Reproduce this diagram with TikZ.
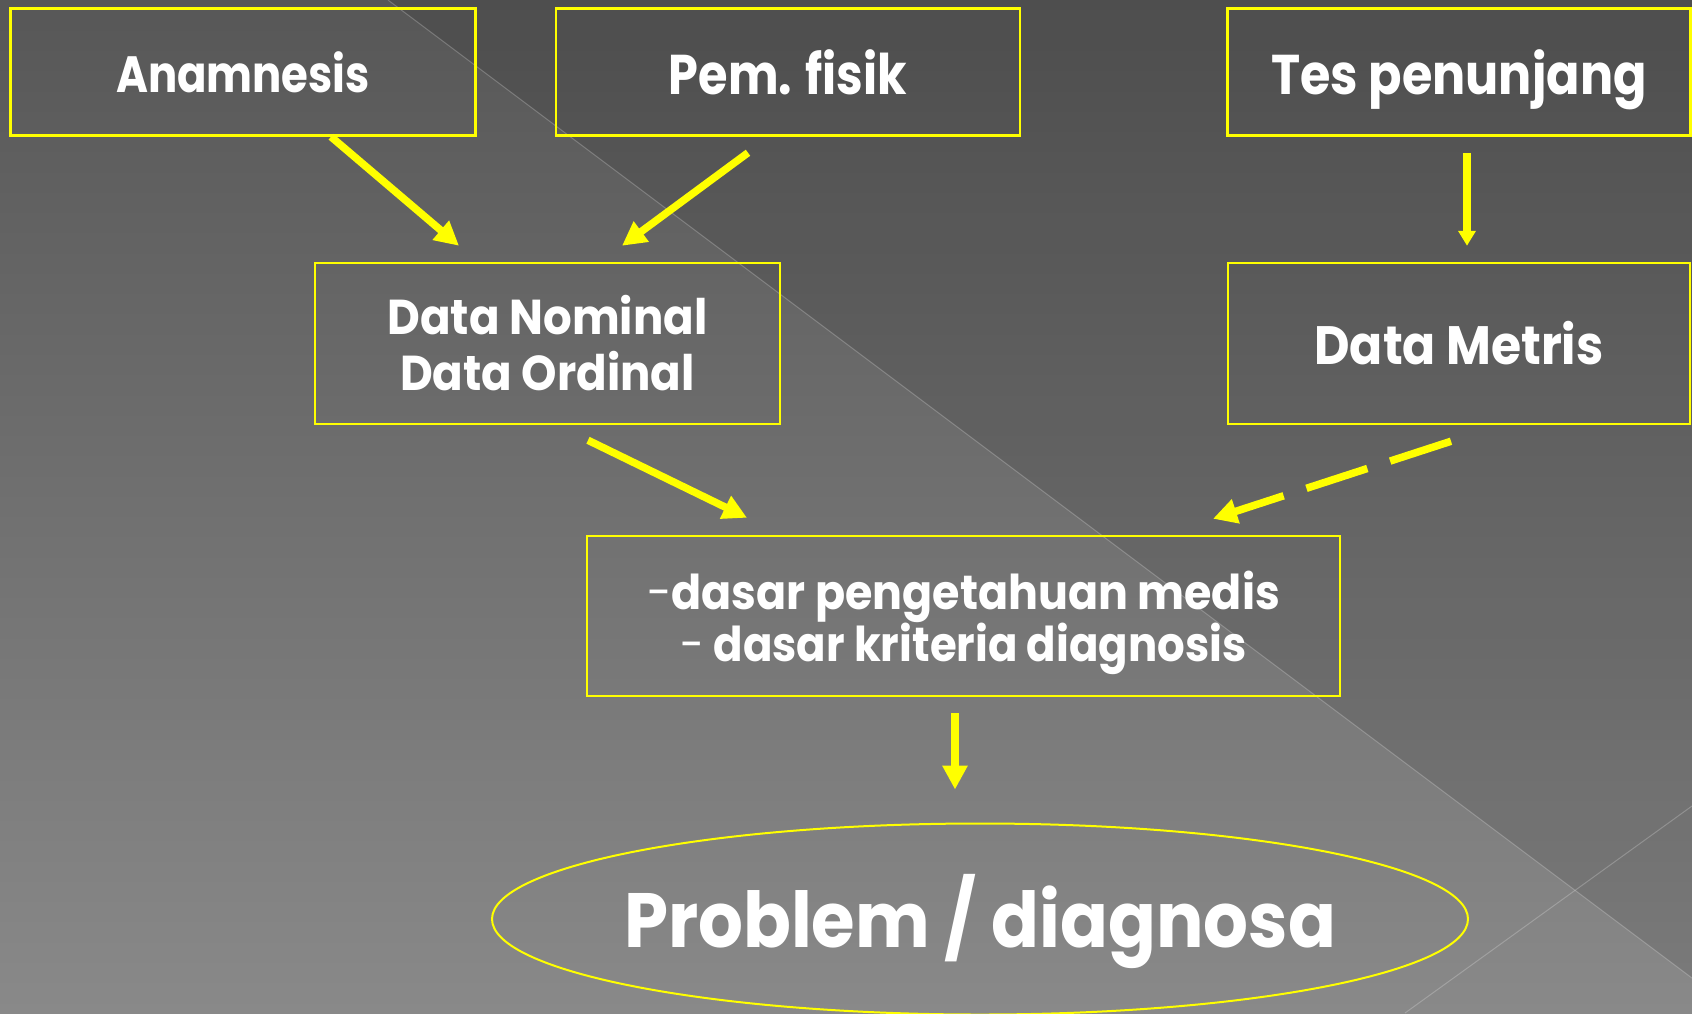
\documentclass[tikz,border=0pt]{standalone}
\usepackage{fontspec}
\setmainfont{Poppins}
\usetikzlibrary{arrows.meta,shapes.geometric}
\definecolor{ylw}{HTML}{FFFF00}
\newcommand{\sq}[2][0.88]{\scalebox{#1}[1]{#2}}
\newcommand{\dropby}[2]{\raisebox{-#1}[\height][\depth]{#2}}
\tikzset{
  box/.style={draw=ylw, line width=2.5pt, rectangle, inner sep=0pt, text=white, align=center},
  arr/.style={draw=ylw, line width=7.5pt, -{Triangle[length=24pt,width=24pt]}},
  arrsmall/.style={draw=ylw, line width=7.5pt, -{Triangle[length=15pt,width=17pt]}},
  bgline/.style={draw=white, opacity=0.22, line width=1pt}
}
\begin{document}
\begin{tikzpicture}[x=1pt,y=-1pt]
\useasboundingbox (0,0) rectangle (1692,1013);
% background
\shade[top color={rgb,255:red,87;green,87;blue,87}, bottom color={rgb,255:red,137;green,137;blue,137}] (0,0) rectangle (1692,1013);
\fill[black, opacity=0.1] (388,0) -- (1692,0) -- (1692,978) -- cycle;
\draw[bgline] (388,0) -- (1692,978);
\draw[bgline] (1405,1013) -- (1692,806);
% nodes
\node[box, minimum width=465pt, minimum height=127pt, font=\fontsize{51}{51}\selectfont\bfseries] (ana) at (243,72) {\sq[0.851]{Anamnesis}};
\node[box, minimum width=464pt, minimum height=127pt, font=\fontsize{56}{56}\selectfont\bfseries] (pem) at (788,72) {\sq[0.853]{Pem. fisik}};
\node[box, minimum width=463pt, minimum height=127pt, font=\fontsize{56}{56}\selectfont\bfseries] (tes) at (1459,72) {\dropby{7.5pt}{\sq[0.88]{Tes penunjang}}};
\node[box, minimum width=465pt, minimum height=161pt, font=\fontsize{49}{56}\selectfont\bfseries] (nom) at (547.5,343.5) {\sq[0.92]{Data Nominal}\\\sq[0.92]{Data Ordinal}};
\node[box, minimum width=462pt, minimum height=161pt, font=\fontsize{54}{54}\selectfont\bfseries] (met) at (1459,343.5) {\sq[0.904]{Data Metris}};
\node[box, minimum width=753pt, minimum height=160pt, font=\fontsize{48}{54}\selectfont\bfseries] (das) at (963.5,616) {\dropby{8.5pt}{\begin{tabular}{@{}c@{}}\sq[0.925]{{\mdseries-}dasar pengetahuan medis}\\[-2pt]\sq[0.905]{{\mdseries-} dasar kriteria diagnosis}\end{tabular}}};
\node[box, ellipse, line width=2pt, minimum width=976pt, minimum height=191pt, font=\fontsize{77}{77}\selectfont\bfseries] (ell) at (980,919) {\makebox[0pt]{\dropby{2pt}{\sq[0.916]{Problem / diagnosa}}}};
% connectors
\draw[arr] ([xshift=88pt]ana.south) -- ([xshift=-88.5pt,yshift=16pt]nom.north);
\draw[arr] ([xshift=-40pt,yshift=-16pt]pem.south) -- ([xshift=74.5pt,yshift=16pt]nom.north);
\draw[arrsmall] ([xshift=8pt,yshift=-16pt]tes.south) -- ([xshift=8pt,yshift=16pt]met.north);
\draw[arr] ([xshift=40.5pt,yshift=-15pt]nom.south) -- ([xshift=-216.5pt,yshift=17pt]das.north);
\draw[arr, dash pattern=on 64pt off 24pt] ([xshift=-8pt,yshift=-16pt]met.south) -- ([xshift=249.5pt,yshift=16pt]das.north);
\draw[arr] ([xshift=-8.5pt,yshift=-16pt]das.south) -- ([xshift=-25pt,yshift=33pt]ell.north);
\end{tikzpicture}
\end{document}
